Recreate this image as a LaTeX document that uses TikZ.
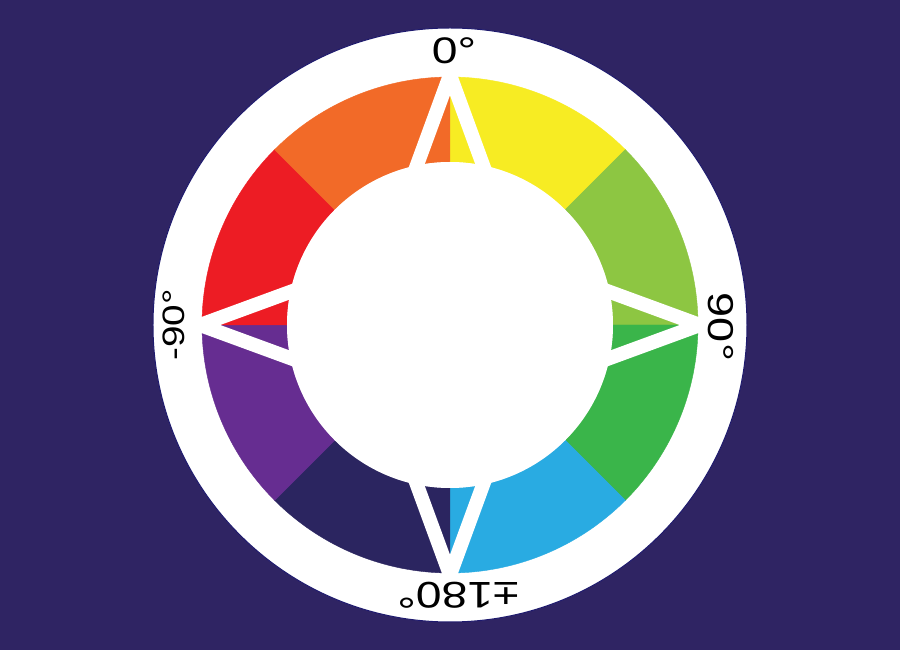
\documentclass[tikz,border=0pt]{standalone}
\usepackage{fontspec}
\newfontfamily\labfont[FakeStretch=1.25]{Liberation Sans}
\definecolor{bg}{HTML}{2F2463}
\definecolor{edge}{HTML}{1E1A6E}
\definecolor{cyel}{HTML}{F7EC23}
\definecolor{cyg}{HTML}{8DC642}
\definecolor{cgreen}{HTML}{3AB54A}
\definecolor{ccyan}{HTML}{29ABE2}
\definecolor{cnavy}{HTML}{2B2560}
\definecolor{cpurple}{HTML}{662D91}
\definecolor{cred}{HTML}{ED1C24}
\definecolor{corange}{HTML}{F26A28}
\tikzset{
  starpoint/.style={draw=white, line width=14, line join=miter},
  lab/.style={anchor=base, inner sep=0pt, text=black}
}
\begin{document}
\begin{tikzpicture}[x=1pt,y=1pt]
\useasboundingbox (-450,-325) rectangle (450,325);
\fill[bg] (-450,-325) rectangle (450,325);
\fill[white, draw=edge, line width=1] (0,0) circle[radius=297];
\foreach \a/\b/\c in {45/90/cyel, 0/45/cyg, -45/0/cgreen, -90/-45/ccyan, -135/-90/cnavy, -180/-135/cpurple, 135/180/cred, 90/135/corange}{
  \fill[\c, draw=\c, line width=0.4] (\a:163) arc[start angle=\a, end angle=\b, radius=163] -- (\b:248) arc[start angle=\b, end angle=\a, radius=248] -- cycle;
}
\foreach \r in {0,-90,180,90}{
  \draw[starpoint, rotate=\r] (0,250) -- (-55,100) -- (55,100) -- cycle;
}
\fill[white] (0,0) circle[radius=163];
\node[lab, font=\labfont\fontsize{37}{40}\selectfont] (t) at (4,261) {0°};
\node[lab, rotate=-90, font=\labfont\fontsize{36}{40}\selectfont] (r) at (258,-2) {90°};
\node[lab, rotate=180, font=\labfont\fontsize{37}{40}\selectfont] (b) at (8,-258) {±180°};
\node[lab, rotate=90, font=\labfont\fontsize{31}{40}\selectfont] (l) at (-265,0) {-90°};
\end{tikzpicture}
\end{document}
